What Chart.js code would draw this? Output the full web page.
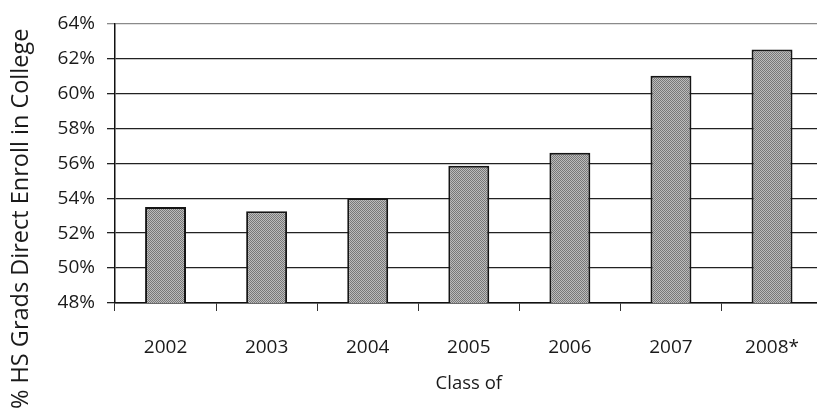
<!DOCTYPE html>
<html>
<head>
<meta charset="utf-8">
<script src="https://cdn.jsdelivr.net/npm/chart.js@4"></script>
<style>
  html, body { margin: 0; padding: 0; background: #fff; overflow: hidden; }
  #wrap { width: 824px; height: 409px; }
</style>
</head>
<body>
<div id="wrap"><canvas id="enroll"></canvas></div>
<script>
const CLASS_YEARS = ["2002", "2003", "2004", "2005", "2006", "2007", "2008*"];
const ENROLL_PCT = [53.5, 53.25, 54.0, 55.85, 56.6, 61.0, 62.5];
const Y_MIN = 48;
const Y_MAX = 64;
const Y_STEP = 2;

const FONT = "'Open Sans', sans-serif";

// dithered grey fill like the scanned bars
function makeFill() {
    const c = document.createElement("canvas");
    c.width = 2;
    c.height = 2;
    const g = c.getContext("2d");
    g.fillStyle = "#bcbcbc";
    g.fillRect(0, 0, 2, 2);
    g.fillStyle = "#787878";
    g.fillRect(0, 0, 1, 1);
    g.fillRect(1, 1, 1, 1);
    return g.createPattern(c, "repeat");
}

window.onload = function () {
    const ctx = document.getElementById("enroll").getContext("2d");
    new Chart(ctx, {
        type: "bar",
        data: {
            labels: CLASS_YEARS,
            datasets: [{
                data: ENROLL_PCT,
                backgroundColor: makeFill(),
                borderColor: "#151515",
                borderWidth: 2,
                barPercentage: 0.405,
                categoryPercentage: 1.0
            }]
        },
        options: {
            responsive: true,
            maintainAspectRatio: false,
            animation: false,
            layout: {
                padding: { top: 21, right: 0, bottom: 0, left: 0 }
            },
            plugins: {
                legend: { display: false },
                tooltip: { enabled: false },
                title: {
                    display: true,
                    position: "left",
                    align: "start",
                    text: "% HS Grads Direct Enroll in College",
                    color: "#1a1a1a",
                    font: { family: FONT, size: 23.5, weight: "normal" },
                    padding: { top: 7, bottom: 3 }
                }
            },
            scales: {
                x: {
                    afterFit: function (s) { s.height = 106; },
                    grid: {
                        offset: true,
                        drawOnChartArea: false,
                        tickLength: 8,
                        color: "#333"
                    },
                    border: { color: "#111", width: 1.5 },
                    ticks: {
                        color: "#1a1a1a",
                        padding: 25,
                        font: { family: FONT, size: 19 }
                    },
                    title: {
                        display: true,
                        text: "Class of",
                        color: "#1a1a1a",
                        font: { family: FONT, size: 18.5 },
                        padding: { top: 0, bottom: 14 }
                    }
                },
                y: {
                    min: Y_MIN,
                    max: Y_MAX,
                    afterFit: function (s) { s.width = 115 - 38.2; },
                    grid: {
                        tickLength: 8,
                        color: function (c) {
                            return c.tick && c.tick.value === Y_MAX ? "#8a8a8a" : "#222";
                        },
                        lineWidth: 1.3
                    },
                    border: { color: "#111", width: 1.5 },
                    ticks: {
                        stepSize: Y_STEP,
                        padding: 12,
                        color: "#1a1a1a",
                        font: { family: FONT, size: 19 },
                        callback: function (v) { return v + "%"; }
                    }
                }
            }
        }
    });
};
</script>
</body>
</html>
